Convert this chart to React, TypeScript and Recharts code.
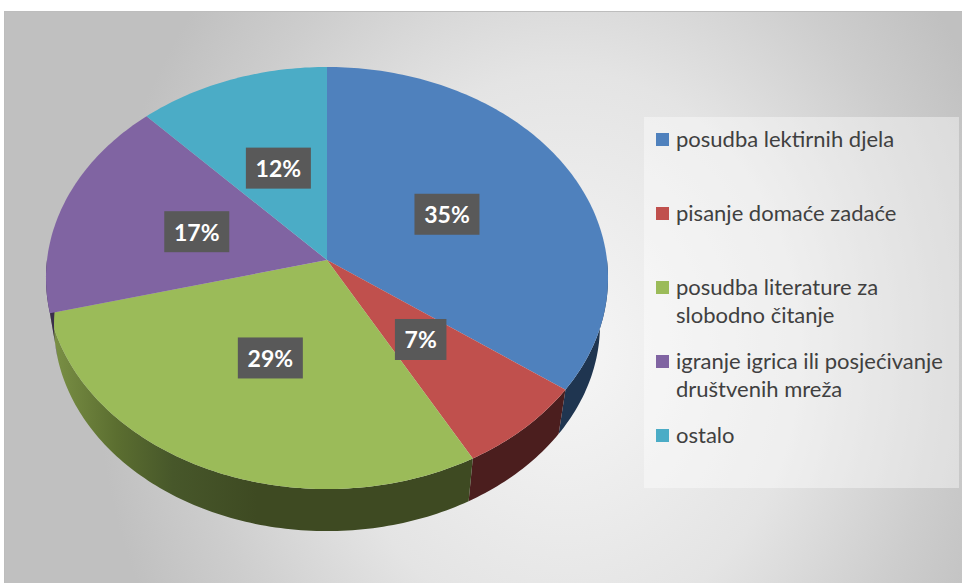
import React from 'react';
import { PieChart, Pie, Cell, Legend } from 'recharts';

const CATEGORIES = [
  'posudba lektirnih djela',
  'pisanje domaće zadaće',
  'posudba literature za slobodno čitanje',
  'igranje igrica ili posjećivanje društvenih mreža',
  'ostalo',
];
const SHARES = [35, 7, 29, 17, 12];
const COLORS = ['#4f81bd', '#c0504d', '#9bbb59', '#8064a2', '#4bacc6'];
const SIDE_COLORS = ['#1f3550', '#4b1e1e', 'url(#greenSide)', '#3b2e4c', '#1f4a56'];

const chartData = CATEGORIES.map((name, i) => ({ name, value: SHARES[i] }));

// perspective 3D pie: the disc is projected, far half shrinks a little (PERSP)
const Y_RATIO = 209.5 / 280;
const PERSP = 0.0853;
const BOTTOM_DY = 47;
const BOTTOM_X_RATIO = 272 / 280;
const BOTTOM_Y_RATIO = 205 / 209.5;

const rad = (deg: number) => (deg * Math.PI) / 180;

// project a point of the unit disc (radius fraction rho, angle t) to the screen
const project = (cx: number, cy: number, a: number, b: number, rho: number, t: number) => {
  const s = Math.sin(rad(t));
  const c = Math.cos(rad(t));
  const k = 1 + PERSP * rho * s;
  return [cx + (a * rho * c) / k, cy - (b * rho * s) / k];
};

const arcPoints = (fn: (t: number) => number[], from: number, to: number) => {
  const n = Math.max(2, Math.ceil(Math.abs(from - to)));
  const pts: string[] = [];
  for (let i = 0; i <= n; i++) {
    const t = from + ((to - from) * i) / n;
    const [x, y] = fn(t);
    pts.push(`${x.toFixed(2)},${y.toFixed(2)}`);
  }
  return pts;
};

const Slice3D = (props: any) => {
  const { cx, cy, outerRadius, startAngle, endAngle, fill } = props;
  const a = outerRadius;
  const b = outerRadius * Y_RATIO;
  const top = (t: number) => project(cx, cy, a, b, 1, t);
  const bot = (t: number) => project(cx, cy + BOTTOM_DY, a * BOTTOM_X_RATIO, b * BOTTOM_Y_RATIO, 1, t);

  const s = Math.max(startAngle, endAngle);
  const e = Math.min(startAngle, endAngle);
  const face = `M${cx},${cy} L${arcPoints(top, s, e).join(' L')} Z`;

  // visible side wall = front half of the disc, angles between 0 and -180
  const from = Math.min(s, 0);
  const to = Math.max(e, -180);
  const idx = COLORS.indexOf(fill);
  let side = null;
  if (from > to) {
    const upper = arcPoints(top, from, to);
    const lower = arcPoints(bot, to, from);
    const d = `M${upper.join(' L')} L${lower.join(' L')} Z`;
    side = <path d={d} fill={SIDE_COLORS[idx] || '#333'} stroke="none" />;
  }

  return (
    <g>
      {idx === 2 && (
        <defs>
          <linearGradient id="greenSide" gradientUnits="userSpaceOnUse" x1={cx - a} y1={0} x2={cx} y2={0}>
            <stop offset="0%" stopColor="#7d9347" />
            <stop offset="25%" stopColor="#5b6e30" />
            <stop offset="45%" stopColor="#47572a" />
            <stop offset="75%" stopColor="#3e4a22" />
            <stop offset="100%" stopColor="#3e4a22" />
          </linearGradient>
        </defs>
      )}
      {side}
      <path d={face} fill={fill} stroke="none" />
    </g>
  );
};

const renderLabel = (props: any) => {
  const { cx, cy, outerRadius, startAngle, endAngle, midAngle, value } = props;
  const mid = startAngle !== undefined && endAngle !== undefined ? (startAngle + endAngle) / 2 : midAngle;
  const [x, y] = project(cx, cy, outerRadius, outerRadius * Y_RATIO, 0.49, mid);
  const text = `${value}%`;
  const w = 18 + (text.length - 1) * 13.5 + 20;
  const h = 41;
  return (
    <g>
      <rect x={x - w / 2} y={y - h / 2} width={w} height={h} fill="#595959" />
      <text
        x={x}
        y={y}
        textAnchor="middle"
        dominantBaseline="central"
        fill="#ffffff"
        fontFamily="Lato, 'Open Sans', sans-serif"
        fontWeight={700}
        fontSize={23}
      >
        {text}
      </text>
    </g>
  );
};

// keep the original category order (Recharts would sort the payload)
const renderLegend = () => (
  <div
    style={{
      width: '100%',
      height: '100%',
      boxSizing: 'border-box',
      background: 'rgba(255,255,255,0.4)',
      paddingTop: 8,
      fontFamily: "Lato, 'Open Sans', sans-serif",
      fontSize: 22,
      color: '#404040',
    }}
  >
    {CATEGORIES.map((name, i) => (
      <div key={name} style={{ display: 'flex', alignItems: 'flex-start', height: 74, paddingLeft: 12 }}>
        <div style={{ width: 13, height: 13, background: COLORS[i], marginTop: 7.5, flexShrink: 0 }} />
        <div style={{ marginLeft: 7, lineHeight: '28px', width: 282 }}>{name}</div>
      </div>
    ))}
  </div>
);

export default function App() {
  return (
    <div
      style={{
        position: 'absolute',
        left: 4,
        top: 11,
        width: 958,
        height: 572,
        boxSizing: 'border-box',
        borderTop: '1px solid #bdbdbd',
        borderLeft: '1px solid #bdbdbd',
        background: 'radial-gradient(ellipse 470px 560px at 560px 340px, #f6f6f6 0%, #e4e4e4 50%, #cdcdcd 80%, #c0c0c0 100%)',
        overflow: 'hidden',
      }}
    >
      <PieChart width={958} height={572} margin={{ top: 0, right: 0, bottom: 0, left: 0 }}>
        <Pie
          data={chartData}
          dataKey="value"
          nameKey="name"
          cx={322}
          cy={248}
          outerRadius={280}
          startAngle={90}
          endAngle={-270}
          stroke="none"
          isAnimationActive={false}
          shape={Slice3D}
          inactiveShape={Slice3D}
          activeShape={Slice3D}
          label={renderLabel}
          labelLine={false}
        >
          {chartData.map((d, i) => (
            <Cell key={d.name} fill={COLORS[i]} />
          ))}
        </Pie>
        <Legend
          layout="vertical"
          align="right"
          verticalAlign="top"
          content={renderLegend}
          wrapperStyle={{ position: 'absolute', left: 639, top: 105, width: 315, height: 371 }}
        />
      </PieChart>
    </div>
  );
}
